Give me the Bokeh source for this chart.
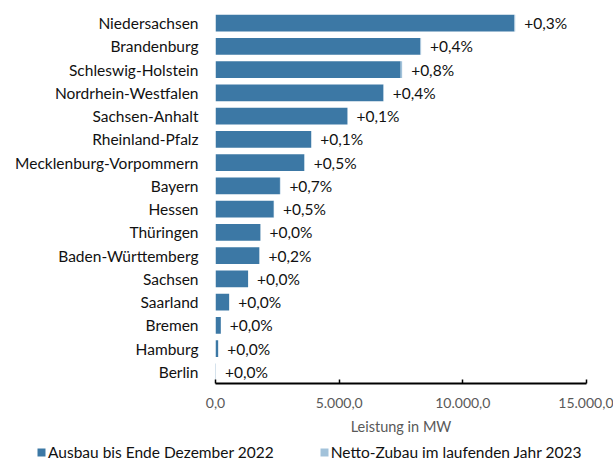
from bokeh.plotting import figure
from bokeh.models import FactorRange, Range1d, FixedTicker, Legend, LegendItem, ColumnDataSource
from bokeh.core.properties import value
from bokeh.layouts import column
from bokeh.embed import file_html
from bokeh.resources import INLINE

states = ["Niedersachsen", "Brandenburg", "Schleswig-Holstein", "Nordrhein-Westfalen",
          "Sachsen-Anhalt", "Rheinland-Pfalz", "Mecklenburg-Vorpommern", "Bayern",
          "Hessen", "Thüringen", "Baden-Württemberg", "Sachsen", "Saarland",
          "Bremen", "Hamburg", "Berlin"]
ausbau_2022 = [12082, 8280, 7486, 6780, 5335, 3870, 3586, 2605, 2356, 1816, 1772,
               1318, 552, 215, 108, 17]
zubau_2023 = [36, 33, 60, 27, 5, 4, 18, 18, 12, 0, 4, 0, 0, 0, 0, 0]
pct_labels = ["+0,3%", "+0,4%", "+0,8%", "+0,4%", "+0,1%", "+0,1%", "+0,5%", "+0,7%",
              "+0,5%", "+0,0%", "+0,2%", "+0,0%", "+0,0%", "+0,0%", "+0,0%", "+0,0%"]
x_ticks = [0, 5000, 10000, 15000]
x_tick_labels = ["0,0", "5.000,0", "10.000,0", "15.000,0"]

series_names = ["Ausbau bis Ende Dezember 2022", "Netto-Zubau im laufenden Jahr 2023"]
colors = ["#3C78A5", "#A2C2DA"]

totals = [a + z for a, z in zip(ausbau_2022, zubau_2023)]
src = ColumnDataSource(dict(state=states, a=ausbau_2022, z=zubau_2023,
                            total=totals, lbl=pct_labels))

FONT = "Lato"

p = figure(y_range=FactorRange(factors=list(reversed(states)), range_padding=0),
           x_range=Range1d(0, 15000),
           width=613, height=440, output_backend="svg", toolbar_location=None,
           min_border_left=215, min_border_right=27, min_border_top=11, min_border_bottom=0,
           frame_width=371, frame_height=372)
p.frame_align = False
p.outline_line_color = None
p.grid.visible = False
p.background_fill_color = "white"
p.border_fill_color = "white"

rs = p.hbar_stack(["a", "z"], y="state", height=0.72, color=colors, source=src,
                  line_color=None)

p.text(x="total", y="state", text="lbl", source=src, x_offset=9,
       text_align="left", text_baseline="middle", text_font_size="15.5px",
       text_color="#111111", text_font=value(FONT))

# y axis
ya = p.yaxis[0]
ya.axis_line_color = None
ya.major_tick_line_color = None
ya.minor_tick_line_color = None
ya.major_label_text_font = FONT
ya.major_label_text_font_size = "15.5px"
ya.major_label_text_color = "#111111"
ya.major_label_standoff = 11

# x axis
xa = p.xaxis[0]
xa.ticker = FixedTicker(ticks=x_ticks)
xa.major_label_overrides = {t: l for t, l in zip(x_ticks, x_tick_labels)}
xa.minor_tick_line_color = None
xa.axis_line_color = "black"
xa.axis_line_width = 2
xa.major_tick_line_color = "black"
xa.major_tick_line_width = 1.5
xa.major_tick_in = 4
xa.major_tick_out = 0
xa.major_label_standoff = 14
xa.major_label_text_font = FONT
xa.major_label_text_font_size = "14px"
xa.major_label_text_color = "#595959"
xa.axis_label = "Leistung in MW"
xa.axis_label_text_font = FONT
xa.axis_label_text_font_size = "14.5px"
xa.axis_label_text_font_style = "normal"
xa.axis_label_text_color = "#595959"
xa.axis_label_standoff = 7

# legend in a separate strip below the chart (bars there lie outside its visible range)
lg = figure(width=613, height=24, output_backend="svg", toolbar_location=None,
            min_border=0, x_range=Range1d(-2, -1),
            y_range=FactorRange(factors=list(reversed(states))))
lg.frame_align = False
lg.axis.visible = False
lg.grid.visible = False
lg.outline_line_color = None
lg.background_fill_color = "white"
lg.border_fill_color = "white"
lr = lg.hbar_stack(["a", "z"], y="state", height=0.72, color=colors, source=src,
                   line_color=None)
legend = Legend(items=[LegendItem(label=series_names[0], renderers=[lr[0]]),
                       LegendItem(label=series_names[1], renderers=[lr[1]])],
                orientation="horizontal", location=(36, 0),
                label_text_font=FONT, label_text_font_size="15.5px",
                label_text_color="#111111", glyph_width=10, glyph_height=10,
                label_standoff=2, spacing=45, padding=0, margin=0,
                border_line_color=None, background_fill_alpha=0,
                label_height=16)
lg.add_layout(legend, "center")

layout = column(p, lg, spacing=0)
open("out.html", "w").write(file_html(layout, INLINE))
